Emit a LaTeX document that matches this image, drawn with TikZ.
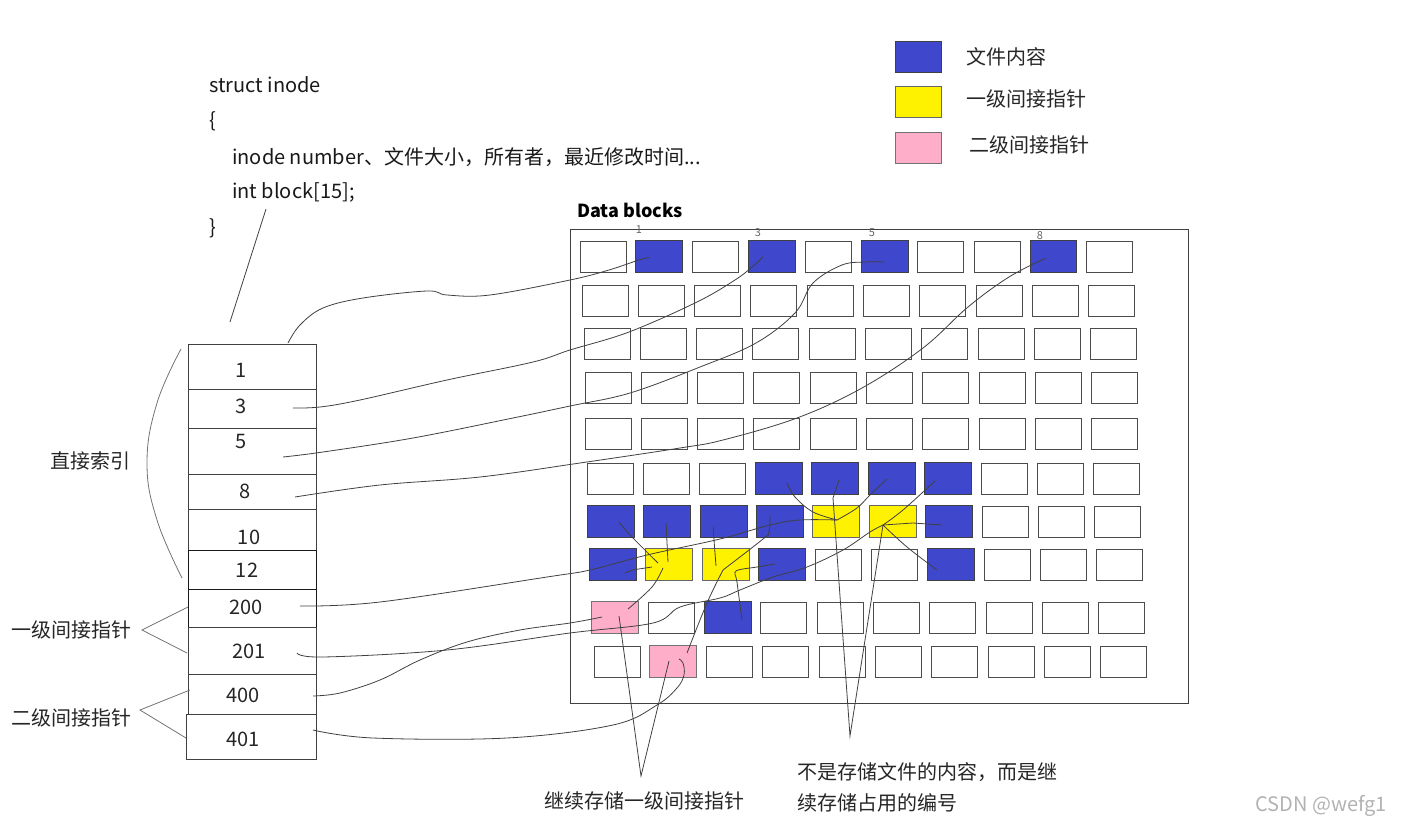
\documentclass[tikz,border=0pt]{standalone}
\usepackage{fontspec}
\setmainfont{Noto Sans CJK SC}
\definecolor{cblue}{RGB}{63,72,204}
\definecolor{cyel}{RGB}{255,242,0}
\definecolor{cpink}{RGB}{255,174,201}
\begin{document}
\begin{tikzpicture}[x=1pt,y=-1pt,
  gbox/.style={draw=black!70,line width=0.9pt,fill=white,minimum width=46pt,minimum height=31pt,inner sep=0pt},
  cell/.style={draw=black!75,line width=1pt,anchor=north west,inner sep=0pt,minimum width=128pt},
  lab/.style={font=\fontsize{20}{24}\selectfont,text=black!85,inner sep=0pt},
  code/.style={font=\fontsize{20}{24}\selectfont,text=black!90,inner sep=0pt,anchor=west},
  tiny/.style={font=\fontsize{11}{12}\selectfont,text=black!60,inner sep=0pt},
  wire/.style={draw=black!75,line width=0.8pt},
  guide/.style={draw=black!55,line width=0.8pt},
  fb/.style={fill=cblue,draw=black!75,line width=0.9pt},
  fy/.style={fill=cyel,draw=black!60,line width=0.9pt},
  fp/.style={fill=cpink,draw=black!55,line width=0.9pt}]
\useasboundingbox (0,0) rectangle (1417,835);

% ---------- code text ----------
\node[code] (s1) at (209,85) {struct inode};
\node[code] (s2) at (209,121) {\{};
\node[code] (s3) at (232,157) {inode number、文件大小，所有者，最近修改时间...};
\node[code] (s4) at (232,192) {int block[15];};
\node[code] (s5) at (209,228) {\}};

% ---------- legend ----------
\node[fb,minimum width=46pt,minimum height=31pt,inner sep=0pt] (lg1) at (918,57) {};
\node[fy,minimum width=46pt,minimum height=31pt,inner sep=0pt] (lg2) at (918,102) {};
\node[fp,minimum width=46pt,minimum height=31pt,inner sep=0pt] (lg3) at (918,148) {};
\node[lab,anchor=west] (lt1) at (966,57) {文件内容};
\node[lab,anchor=west] (lt2) at (966,99) {一级间接指针};
\node[lab,anchor=west] (lt3) at (969,145) {二级间接指针};

% ---------- data blocks frame ----------
\node[font=\fontsize{18}{22}\selectfont\bfseries,anchor=west,inner sep=0pt] (dbt) at (577,210) {Data blocks};
\node[draw=black!75,line width=0.9pt,anchor=north west,minimum width=618pt,minimum height=474pt,inner sep=0pt] (frame) at (570,229) {};
\node[tiny] (n1) at (639,230) {1};
\node[tiny] (n3) at (758,233) {3};
\node[tiny] (n5) at (872,233) {5};
\node[tiny] (n8) at (1040,236) {8};

\foreach \r/\xo/\yt in {1/580/241,2/582/285,3/584/328,4/585/372,5/585/418,6/587/463,7/588/506,8/590/549,9/592/602,10/594/646}{
  \foreach \c in {0,...,9}{
    \pgfmathsetmacro\xx{\xo+56.3*\c+23}
    \pgfmathsetmacro\yy{\yt+15.5}
    \node[gbox] (b-\r-\c) at (\xx,\yy) {};
  }
}
\foreach \r/\c in {1/1,1/3,1/5,1/8,6/3,6/4,6/5,6/6,7/0,7/1,7/2,7/3,7/6,8/0,8/3,8/6,9/2}{
  \path[fb] (b-\r-\c.south west) rectangle (b-\r-\c.north east);
}
\foreach \r/\c in {7/4,7/5,8/1,8/2}{
  \path[fy] (b-\r-\c.south west) rectangle (b-\r-\c.north east);
}
\foreach \r/\c in {9/0,10/1}{
  \path[fp] (b-\r-\c.south west) rectangle (b-\r-\c.north east);
}

% ---------- inode column ----------
\node[cell,minimum height=45pt] (c1) at (188,344) {};
\node[cell,minimum height=39pt] (c3) at (188,389) {};
\node[cell,minimum height=46pt] (c5) at (188,428) {};
\node[cell,minimum height=35pt] (c8) at (188,474) {};
\node[cell,minimum height=41pt] (c10) at (188,509) {};
\node[cell,minimum height=39pt,draw=black!90] (c12) at (188,550) {};
\node[cell,minimum height=38pt,draw=black!90] (c200) at (188,589) {};
\node[cell,minimum height=47pt] (c201) at (188,627) {};
\node[cell,minimum height=40pt] (c400) at (188,674) {};
\node[cell,minimum height=45pt,minimum width=130pt] (c401) at (186,714) {};
\node[lab] (t1) at (241,370) {1};
\node[lab] (t3) at (241,406) {3};
\node[lab] (t5) at (241,441) {5};
\node[lab] (t8) at (245,491) {8};
\node[lab] (t10) at (249,537) {10};
\node[lab] (t12) at (247,570) {12};
\node[lab] (t200) at (246,607) {200};
\node[lab] (t201) at (249,651) {201};
\node[lab] (t400) at (243,695) {400};
\node[lab] (t401) at (243,739) {401};

% ---------- side labels ----------
\node[lab] (k1) at (90,461) {直接索引};
\node[lab] (k2) at (72,630) {一级间接指针};
\node[lab] (k3) at (72,718) {二级间接指针};
\draw[guide] plot[smooth,tension=0.7] coordinates {(181,349) (157,403) (147,463) (157,520) (182,578)};
\coordinate (v1) at (142,630);
\coordinate (v2) at (140,710);
\draw[guide] (188,607) -- (v1) -- (187,653);
\draw[guide] (190,690) -- (v2) -- (186,738);

% ---------- bottom labels ----------
\node[lab] (bl1) at (644,801) {继续存储一级间接指针};
\node[lab,anchor=west] (bl2) at (797,772) {不是存储文件的内容，而是继};
\node[lab,anchor=west] (bl3) at (797,803) {续存储占用的编号};
\node[font=\fontsize{20}{24}\selectfont,text=black!30,inner sep=0pt] (wm) at (1321,806) {CSDN @wefg1};

% ---------- inode -> data ----------
\coordinate (blk) at (266,209);
\coordinate (itop) at (230,322);
\draw[wire] (blk) -- (itop);
\coordinate (e1) at (650,258);
\coordinate (e3) at (763,257);
\coordinate (e5) at (884,262);
\coordinate (e8) at (1046,258);
\coordinate (h1) at (837,520);
\coordinate (h2) at (883,525);
\coordinate (h3) at (658,563);
\coordinate (h4) at (723,570);
\coordinate (pk1) at (602,617);
\coordinate (pk2) at (679,659);
\draw[wire] plot[smooth,tension=0.6] coordinates {(288,343) (300,325) (323,308) (363,298) (427,291) (447,295) (490,295) (570,280) (609,270) (642,259) (e1)};
\draw[wire] plot[smooth,tension=0.6] coordinates {(293,408) (320,407) (360,400) (447,380) (533,362) (570,350) (629,332) (697,302) (735,280) (752,267) (e3)};
\draw[wire] plot[smooth,tension=0.6] coordinates {(283,457) (323,452) (413,438) (513,418) (570,406) (630,393) (700,367) (756,343) (795,313) (813,283) (842,265) (866,262) (e5)};
\draw[wire] plot[smooth,tension=0.6] coordinates {(295,497) (380,485) (480,477) (580,463) (680,448) (723,440) (797,418) (862,388) (923,348) (968,307) (1009,277) (e8)};
\draw[wire] plot[smooth,tension=0.6] coordinates {(300,606) (380,602) (547,577) (590,570) (647,555) (720,539) (770,525) (800,520) (h1)};
\draw[wire] plot[smooth,tension=0.6] coordinates {(297,653) (323,657) (447,650) (570,633) (653,623) (680,607) (720,598) (740,590) (773,577) (807,567) (843,550) (870,532) (h2)};
\draw[wire] plot[smooth,tension=0.6] coordinates {(313,696) (340,693) (380,680) (420,660) (467,642) (520,630) (570,623) (pk1)};
\draw[wire] plot[smooth,tension=0.6] coordinates {(313,730) (373,738) (507,738) (613,725) (657,705) (677,688) (684,675) (683,663) (pk2)};

% ---------- pointers inside data blocks ----------
\draw[wire] plot[smooth,tension=0.6] coordinates {(787,483) (795,497) (813,512) (h1)};
\draw[wire] plot[smooth,tension=0.6] coordinates {(887,479) (870,495) (857,508) (h1)};
\draw[wire] plot[smooth,tension=0.6] coordinates {(935,481) (903,510) (h2)};
\draw[wire] (h2) -- (913,523) -- (942,525);
\draw[wire] plot[smooth,tension=0.6] coordinates {(h2) (907,547) (937,570)};
\draw[wire] plot[smooth,tension=0.6] coordinates {(619,522) (632,537) (h3)};
\draw[wire] (666,523) -- (668,562);
\draw[wire] (625,573) -- (632,570) -- (652,567);
\draw[wire] plot[smooth,tension=0.6] coordinates {(663,568) (652,587) (628,609)};
\draw[wire] (713,527) -- (716,566);
\draw[wire] plot[smooth,tension=0.6] coordinates {(770,515) (769,532) (763,539) (h4)};
\draw[wire] plot[smooth,tension=0.5] coordinates {(775,564) (757,567) (736,571) (737,582) (742,620)};
\draw[wire] plot[smooth,tension=0.6] coordinates {(h4) (707,603) (687,653)};

% ---------- label arms ----------
\coordinate (apA) at (641,776);
\coordinate (apB) at (850,736);
\draw[wire] (619,616) -- (apA) -- (669,661);
\draw[wire] (839,480) -- (833,498) -- (apB) -- (h2);
\end{tikzpicture}
\end{document}
